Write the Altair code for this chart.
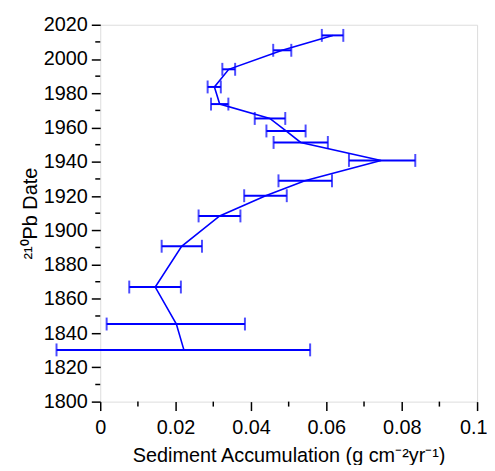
import altair as alt
import pandas as pd

# Data
years = [2013.8, 2005.1, 1994.0, 1983.7, 1973.7, 1965.3, 1958.0, 1951.3,
         1940.8, 1928.9, 1920.2, 1908.4, 1890.7, 1866.9, 1845.3, 1830.2]
rate = [0.0617, 0.0483, 0.0341, 0.0303, 0.0317, 0.0450, 0.0493, 0.0532,
        0.0745, 0.0543, 0.0439, 0.0317, 0.0216, 0.0146, 0.0202, 0.0222]
low = [0.0588, 0.0459, 0.0324, 0.0285, 0.0294, 0.0410, 0.0441, 0.0460,
       0.0660, 0.0473, 0.0382, 0.0261, 0.0163, 0.0077, 0.0017, -0.0116]
high = [0.0645, 0.0507, 0.0358, 0.0320, 0.0340, 0.0491, 0.0545, 0.0604,
        0.0836, 0.0615, 0.0495, 0.0372, 0.0270, 0.0214, 0.0384, 0.0557]

x_major = [0, 0.02, 0.04, 0.06, 0.08, 0.1]
x_minor = [0.01, 0.03, 0.05, 0.07, 0.09]
y_major = [1800, 1820, 1840, 1860, 1880, 1900, 1920, 1940, 1960, 1980, 2000, 2020]
y_minor = [1810, 1830, 1850, 1870, 1890, 1910, 1930, 1950, 1970, 1990, 2010]

x_title = "Sediment Accumulation (g cm⁻²yr⁻¹)"
y_title = "²¹⁰Pb Date"

df = pd.DataFrame({"year": years, "rate": rate, "low": low, "high": high})
xminor_df = pd.DataFrame({"v": x_minor})
yminor_df = pd.DataFrame({"v": y_minor})

blue = "#0000ff"
FONT = "Liberation Sans"

xs = alt.Scale(domain=[0, 0.1], nice=False, zero=False)
ys = alt.Scale(domain=[1800, 2020], nice=False, zero=False)

xaxis = alt.Axis(values=x_major, format="~g", tickSize=9, tickWidth=1.5,
                 tickColor="black", labelPadding=7, labelFontSize=20,
                 labelFont=FONT, labelColor="black", labelFlush=False,
                 labelAlign={"expr": "datum.value >= 0.099 ? 'right' : 'center'"},
                 labelOffset={"expr": "datum.value >= 0.099 ? 10 : 0"},
                 labelOverlap=False, domain=False, grid=False,
                 title=x_title, titleFont=FONT, titleFontSize=20,
                 titleFontWeight="normal", titleColor="black",
                 titleY=44, titleBaseline="top")
yaxis = alt.Axis(values=y_major, format="d", tickSize=9, tickWidth=1.5,
                 tickColor="black", labelPadding=4, labelFontSize=20,
                 labelFont=FONT, labelColor="black", labelFlush=False,
                 labelOverlap=False, domain=False, grid=False,
                 title=y_title, titleFont=FONT, titleFontSize=20,
                 titleFontWeight="normal", titleColor="black",
                 titleX=-64, titleBaseline="alphabetic")

X = lambda f: alt.X(f, scale=xs, axis=xaxis)
Y = lambda f: alt.Y(f, scale=ys, axis=yaxis)

base = alt.Chart(df)

bars = base.mark_rule(color=blue, strokeWidth=2).encode(
    x=X("low:Q"), x2="high:Q", y=Y("year:Q"))
cap_lo = base.mark_tick(color=blue, orient="vertical", size=13, thickness=2).encode(
    x=X("low:Q"), y=Y("year:Q"))
cap_hi = base.mark_tick(color=blue, orient="vertical", size=13, thickness=2).encode(
    x=X("high:Q"), y=Y("year:Q"))
line = base.mark_line(color=blue, strokeWidth=1.6).encode(
    x=X("rate:Q"), y=Y("year:Q"), order="year:Q")

yminor = alt.Chart(yminor_df).mark_rule(color="black", strokeWidth=1.5).encode(
    y=Y("v:Q"), x=alt.value(-5), x2=alt.value(0))
xminor = alt.Chart(xminor_df).mark_rule(color="black", strokeWidth=1.5).encode(
    x=X("v:Q"), y=alt.value(380), y2=alt.value(385))

chart = alt.layer(yminor, xminor, bars, cap_lo, cap_hi, line).properties(
    width=380, height=380,
    autosize=alt.AutoSizeParams(type="none"),
    padding={"left": 93, "top": 15, "right": 10, "bottom": 62},
).configure_view(stroke="black", strokeWidth=2).configure(background="white")

chart.save("out.html", embed_options={"renderer": "svg", "actions": False})
